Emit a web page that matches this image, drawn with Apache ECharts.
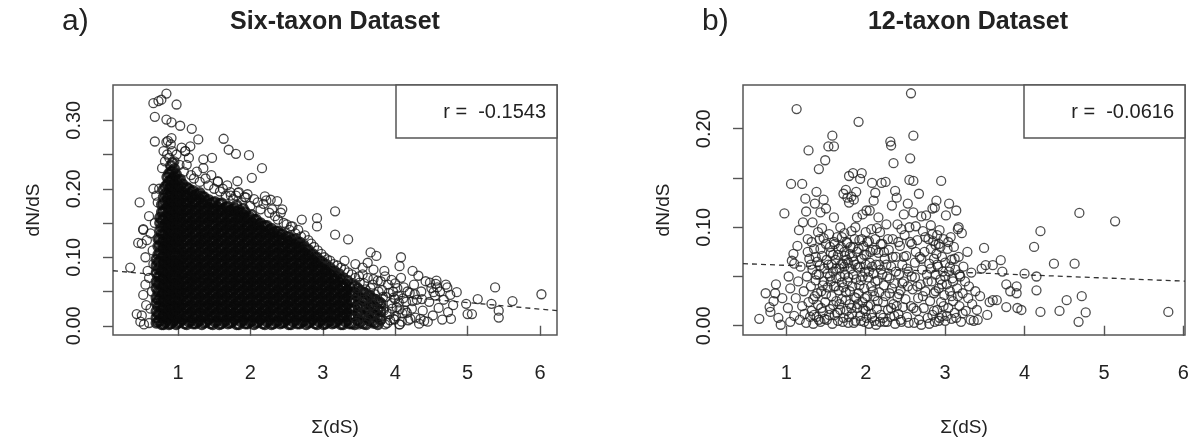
<!DOCTYPE html>
<html><head><meta charset="utf-8">
<script src="https://cdn.jsdelivr.net/npm/echarts@6/dist/echarts.min.js"></script>
<style>html,body{margin:0;padding:0;background:#fff}#c{width:1196px;height:442px}</style>
</head><body><div id="c"></div>
<script>
// ---------- axes / labels ----------
const xTicks = [1, 2, 3, 4, 5, 6];
const sixYTicks = [0, 0.05, 0.10, 0.15, 0.20, 0.25, 0.30];
const sixYLabels = [0, 0.10, 0.20, 0.30];
const twelveYTicks = [0, 0.05, 0.10, 0.15, 0.20];
const twelveYLabels = [0, 0.10, 0.20];
const sixRange = {xmin: 0.102, xmax: 6.235, ymin: -0.0135, ymax: 0.3515};
const twelveRange = {xmin: 0.455, xmax: 6.02, ymin: -0.0094, ymax: 0.2444};
const sixFit = {intercept: 0.0813, slope: -0.0095};
const twelveFit = {intercept: 0.0645, slope: -0.0032};
const sixR = -0.1543;
const twelveR = -0.0616;

// ---------- six-taxon data ----------
// dense (solid black) core, listed column by column: [x, [y values]]
const sixCoreCols = [
[0.70,[.004,.012,.021,.033,.041,.055,.064,.077,.088,.097]],
[0.75,[.007,.018,.028,.040,.049,.062,.072,.084,.094,.106,.117,.126,.139,.150,.158]],
[0.80,[.002,.013,.025,.035,.047,.056,.068,.078,.091,.101,.112,.124,.133,.146,.155,.167,.178,.188,.199]],
[0.85,[.009,.019,.031,.042,.051,.063,.075,.085,.096,.108,.118,.129,.141,.151,.162,.173,.184,.194,.206,.217]],
[0.90,[.003,.015,.024,.037,.046,.058,.069,.080,.091,.102,.114,.123,.135,.146,.157,.168,.179,.190,.201,.212,.224,.234]],
[0.95,[.008,.020,.029,.041,.053,.062,.074,.086,.095,.107,.119,.129,.140,.152,.162,.174,.185,.196,.207,.218,.229]],
[1.00,[.004,.013,.026,.035,.047,.058,.068,.081,.090,.102,.113,.124,.135,.147,.157,.168,.180,.190,.201,.213]],
[1.06,[.009,.019,.031,.042,.052,.064,.075,.086,.097,.108,.119,.130,.141,.151,.163,.174,.185,.196,.207]],
[1.12,[.002,.014,.025,.036,.048,.057,.069,.080,.092,.103,.113,.125,.136,.146,.158,.169,.180,.190,.202]],
[1.18,[.007,.020,.030,.041,.053,.063,.074,.086,.097,.107,.119,.130,.141,.152,.163,.174,.186,.196]],
[1.24,[.003,.015,.024,.036,.047,.059,.070,.081,.091,.102,.114,.124,.136,.147,.157,.169,.180,.191]],
[1.30,[.008,.019,.030,.042,.052,.064,.075,.085,.097,.108,.119,.129,.141,.152,.163,.174,.185,.194]],
[1.36,[.004,.014,.025,.037,.047,.058,.069,.080,.092,.102,.113,.125,.135,.146,.158,.168,.179,.188]],
[1.42,[.009,.020,.031,.041,.053,.063,.074,.086,.096,.108,.118,.130,.140,.152,.162,.173,.184]],
[1.48,[.002,.013,.026,.036,.047,.058,.070,.080,.091,.103,.114,.124,.135,.147,.158,.168,.180]],
[1.54,[.007,.019,.030,.041,.052,.064,.075,.086,.097,.108,.119,.130,.141,.152,.163,.174]],
[1.60,[.003,.014,.025,.037,.047,.058,.069,.081,.091,.102,.113,.125,.136,.146,.157,.169,.179]],
[1.66,[.008,.020,.030,.042,.052,.063,.075,.085,.097,.107,.119,.129,.141,.151,.163,.173]],
[1.72,[.004,.015,.024,.036,.048,.058,.069,.080,.092,.102,.114,.124,.135,.147,.157,.168]],
[1.78,[.009,.019,.031,.041,.053,.064,.074,.086,.096,.108,.118,.130,.141,.151,.162,.172]],
[1.84,[.002,.014,.025,.036,.047,.059,.070,.080,.091,.103,.113,.124,.136,.146,.158,.168]],
[1.90,[.008,.019,.030,.042,.052,.063,.075,.086,.096,.108,.119,.130,.140,.152,.162,.171]],
[1.96,[.003,.015,.026,.036,.047,.058,.069,.081,.092,.102,.113,.125,.135,.146,.157]],
[2.02,[.007,.020,.030,.041,.053,.064,.074,.085,.097,.107,.119,.129,.141,.151,.162]],
[2.08,[.004,.013,.025,.037,.048,.058,.070,.080,.091,.103,.114,.124,.136,.147,.155]],
[2.14,[.009,.019,.031,.042,.052,.063,.075,.086,.096,.108,.118,.130,.140,.150]],
[2.20,[.002,.014,.024,.036,.047,.059,.069,.080,.092,.102,.113,.125,.135,.146]],
[2.26,[.008,.020,.030,.041,.053,.064,.074,.085,.097,.108,.119,.129,.140]],
[2.32,[.003,.015,.026,.037,.047,.058,.070,.081,.091,.103,.113,.124,.136]],
[2.38,[.007,.019,.031,.042,.052,.063,.075,.086,.096,.107,.118,.130,.138]],
[2.44,[.004,.014,.025,.036,.048,.059,.069,.080,.092,.102,.114,.125,.134]],
[2.50,[.009,.020,.030,.041,.053,.064,.074,.086,.097,.108,.119,.130]],
[2.56,[.002,.013,.024,.037,.047,.058,.070,.081,.091,.103,.113,.125]],
[2.62,[.008,.019,.031,.042,.052,.063,.075,.085,.096,.108,.119,.127]],
[2.68,[.003,.015,.025,.036,.047,.059,.069,.080,.092,.102,.114,.122]],
[2.74,[.007,.020,.030,.041,.053,.064,.074,.086,.097,.107,.117]],
[2.80,[.004,.014,.026,.037,.048,.058,.070,.080,.091,.103,.111]],
[2.86,[.009,.019,.031,.042,.052,.063,.075,.086,.096,.105]],
[2.92,[.002,.015,.024,.036,.047,.059,.069,.081,.092,.100]],
[2.98,[.008,.020,.030,.041,.053,.064,.074,.085,.094]],
[3.04,[.003,.013,.025,.037,.047,.058,.070,.080,.090]],
[3.10,[.007,.019,.031,.042,.052,.063,.075,.085]],
[3.16,[.004,.015,.026,.036,.048,.059,.069,.080]],
[3.22,[.009,.020,.030,.041,.053,.064,.076]],
[3.28,[.002,.014,.024,.037,.047,.058,.070]],
[3.34,[.008,.019,.031,.042,.052,.066]],
[3.40,[.003,.015,.025,.036,.048,.061]],
[3.48,[.008,.019,.030,.043,.055]],
[3.56,[.003,.014,.026,.037,.049]],
[3.64,[.008,.020,.031,.044]],
[3.72,[.004,.015,.027,.038]],
[3.80,[.009,.021,.033]]
];
// second, interleaved set of core columns
const sixCoreCols2 = [
[0.725,[.006,.017,.028,.038,.050,.061,.071,.083,.093,.104,.116,.127]],
[0.775,[.002,.012,.024,.035,.045,.056,.067,.079,.089,.100,.111,.122,.134,.144,.155,.166,.177]],
[0.825,[.005,.016,.027,.037,.049,.060,.070,.082,.093,.104,.115,.126,.137,.148,.158,.170,.181,.192,.203]],
[0.875,[.002,.013,.025,.036,.046,.057,.068,.079,.091,.101,.112,.123,.134,.145,.156,.167,.178,.189,.200,.211,.222]],
[0.925,[.006,.017,.028,.039,.050,.061,.072,.084,.094,.105,.116,.127,.138,.149,.160,.171,.183,.193,.204,.215,.226,.238]],
[0.975,[.002,.012,.024,.035,.046,.057,.068,.079,.090,.101,.113,.123,.134,.145,.156,.167,.178,.190,.200,.211,.221]],
[1.03,[.006,.017,.028,.039,.050,.061,.073,.083,.094,.105,.116,.127,.138,.150,.160,.171,.182,.193,.204,.214]],
[1.09,[.003,.013,.025,.035,.047,.057,.068,.079,.090,.101,.112,.124,.134,.145,.156,.167,.178,.189,.200]],
[1.15,[.006,.017,.028,.039,.050,.061,.072,.083,.095,.105,.116,.127,.138,.149,.160,.171,.182,.193,.200]],
[1.21,[.003,.012,.024,.035,.046,.057,.068,.079,.090,.101,.112,.123,.135,.145,.156,.167,.178,.189,.197]],
[1.27,[.006,.017,.028,.039,.050,.061,.072,.084,.094,.105,.116,.127,.138,.149,.160,.171,.182,.192]],
[1.33,[.002,.013,.024,.035,.046,.057,.068,.079,.090,.101,.113,.123,.134,.145,.156,.167,.178,.189]],
[1.39,[.006,.017,.028,.039,.050,.061,.072,.083,.094,.105,.116,.128,.138,.149,.160,.171,.182]],
[1.45,[.003,.013,.024,.035,.046,.057,.068,.079,.090,.101,.112,.123,.134,.146,.156,.167,.178]],
[1.51,[.006,.017,.028,.039,.050,.061,.072,.083,.094,.105,.116,.127,.138,.149,.160,.171,.181]],
[1.57,[.002,.013,.024,.035,.046,.057,.068,.079,.090,.101,.112,.123,.134,.145,.156,.167,.178]],
[1.63,[.006,.017,.028,.039,.050,.061,.072,.083,.094,.105,.116,.127,.138,.149,.160,.171]],
[1.69,[.003,.013,.024,.035,.046,.057,.068,.079,.090,.101,.112,.123,.134,.145,.156,.167,.174]],
[1.75,[.006,.017,.028,.039,.050,.061,.072,.083,.094,.105,.116,.127,.138,.149,.160,.170]],
[1.81,[.002,.013,.024,.035,.046,.057,.068,.079,.090,.101,.112,.123,.134,.145,.156,.167,.176]],
[1.87,[.006,.017,.028,.039,.050,.061,.072,.083,.094,.105,.116,.127,.138,.149,.160,.166]],
[1.93,[.003,.013,.024,.035,.046,.057,.068,.079,.090,.101,.112,.123,.134,.145,.156,.166]],
[1.99,[.006,.017,.028,.039,.050,.061,.072,.083,.094,.105,.116,.127,.138,.149,.159]],
[2.05,[.002,.013,.024,.035,.046,.057,.068,.079,.090,.101,.112,.123,.134,.145,.155]],
[2.11,[.006,.017,.028,.039,.050,.061,.072,.083,.094,.105,.116,.127,.138,.149]],
[2.17,[.003,.013,.024,.035,.046,.057,.068,.079,.090,.101,.112,.123,.134,.145]],
[2.23,[.006,.017,.028,.039,.050,.061,.072,.083,.094,.105,.116,.127,.138,.146]],
[2.29,[.002,.013,.024,.035,.046,.057,.068,.079,.090,.101,.112,.123,.134,.142]],
[2.35,[.006,.017,.028,.039,.050,.061,.072,.083,.094,.105,.116,.127,.138]],
[2.41,[.003,.013,.024,.035,.046,.057,.068,.079,.090,.101,.112,.123,.134]],
[2.47,[.006,.017,.028,.039,.050,.061,.072,.083,.094,.105,.116,.127]],
[2.53,[.002,.013,.024,.035,.046,.057,.068,.079,.090,.101,.112,.123,.130]],
[2.59,[.006,.017,.028,.039,.050,.061,.072,.083,.094,.105,.116,.126]],
[2.65,[.003,.013,.024,.035,.046,.057,.068,.079,.090,.101,.112,.122]],
[2.71,[.006,.017,.028,.039,.050,.061,.072,.083,.094,.105,.116]],
[2.77,[.002,.013,.024,.035,.046,.057,.068,.079,.090,.101,.112]],
[2.83,[.006,.017,.028,.039,.050,.061,.072,.083,.094,.105]],
[2.89,[.003,.013,.024,.035,.046,.057,.068,.079,.090,.100]],
[2.95,[.006,.017,.028,.039,.050,.061,.072,.083,.094]],
[3.01,[.002,.013,.024,.035,.046,.057,.068,.079,.090]],
[3.07,[.006,.017,.028,.039,.050,.061,.072,.083]],
[3.13,[.003,.013,.024,.035,.046,.057,.068,.079]],
[3.19,[.006,.017,.028,.039,.050,.061,.072]],
[3.25,[.002,.013,.024,.035,.046,.057,.068]],
[3.31,[.006,.017,.028,.039,.050,.061]],
[3.37,[.003,.013,.024,.035,.046,.057]],
[3.44,[.002,.013,.025,.036,.048,.058]],
[3.52,[.005,.017,.028,.040,.051]],
[3.60,[.002,.013,.025,.036,.047]],
[3.68,[.006,.017,.029,.040]],
[3.76,[.002,.013,.024,.035]]
];
// individually visible circles around the edge of the dense mass
const sixHalo = [
[0.50,.120],[0.52,.140],[0.55,.100],[0.57,.125],[0.60,.160],[0.62,.135],[0.58,.080],[0.55,.060],
[0.52,.045],[0.56,.030],[0.50,.015],[0.48,.006],[0.53,.002],[0.60,.004],[0.62,.025],[0.64,.050],
[0.60,.070],[0.66,.090],[0.65,.110],[0.68,.150],[0.70,.190],[0.66,.200],[0.72,.180],[0.74,.200],
[0.78,.230],[0.82,.240],[0.85,.250],[0.88,.245],[0.92,.255],[0.95,.240],[0.98,.250],[1.02,.235],
[1.05,.260],[1.08,.225],[1.12,.235],[1.15,.245],[1.10,.255],[0.90,.265],[0.86,.270],[0.80,.255],
[1.18,.220],[1.22,.215],[1.26,.225],[1.30,.210],[1.35,.230],[1.38,.215],[1.42,.205],[1.46,.220],
[1.50,.200],[1.55,.210],[1.58,.196],[1.62,.200],[1.66,.190],[1.72,.195],[1.76,.185],[1.80,.190],
[1.84,.195],[1.88,.180],[1.92,.188],[1.96,.192],[2.00,.175],[2.05,.185],[2.10,.180],[2.14,.170],
[2.18,.178],[2.22,.183],[2.26,.165],[2.30,.170],[2.34,.160],[2.38,.155],[2.42,.165],[2.46,.150],
[2.50,.148],[2.54,.140],[2.58,.145],[2.62,.135],[2.66,.140],[2.70,.130],[2.75,.132],[2.80,.125],
[2.84,.120],[2.88,.115],[2.93,.110],[2.98,.105],[3.02,.100],[3.06,.097],[3.10,.095],[3.15,.090],
[3.20,.088],[3.25,.085],[3.30,.082],[3.35,.078],[3.40,.075],[3.45,.070],[3.50,.072],[3.55,.075],
[3.62,.070],[3.70,.068],[3.80,.065],[3.86,.072],[3.95,.067],[4.00,.062],[3.30,.095],[3.45,.090],
[3.55,.085],[3.62,.092],[3.70,.082],[3.85,.080],
[1.73,.190],[1.83,.194],[1.94,.187],[2.20,.189],[2.28,.184],[2.37,.182],[2.44,.170]
];
// tail of the cloud beyond x = 3.4
const sixTail = [
[3.46,.004],[3.47,.020],[3.45,.038],[3.48,.055],[3.52,.011],[3.53,.030],[3.55,.047],[3.57,.062],
[3.58,.002],[3.60,.022],[3.62,.040],[3.64,.013],[3.66,.055],[3.68,.030],[3.70,.003],[3.72,.046],
[3.74,.019],[3.76,.066],[3.78,.036],[3.80,.008],[3.82,.052],[3.84,.025],[3.87,.042],[3.89,.004],
[3.90,.060],[3.92,.017],[3.95,.033],[3.97,.050],[3.99,.009],[4.02,.027],[4.04,.044],[4.06,.002],
[4.08,.070],[4.10,.018],[4.12,.056],[4.15,.035],[4.18,.008],[4.20,.048],[4.23,.025],[4.26,.060],
[4.28,.012],[4.30,.038],[4.33,.003],[4.36,.050],[4.38,.022],[4.42,.065],[4.45,.006],[4.47,.035],
[4.50,.055],[4.52,.015],[4.55,.044],[4.57,.066],[4.60,.026],[4.62,.050],[4.65,.009],[4.67,.038],
[4.70,.060],[4.73,.020],[4.76,.045],[4.80,.030],
[3.44,.012],[3.46,.046],[3.49,.028],[3.51,.063],[3.50,.002],[3.54,.019],[3.56,.038],[3.59,.053],
[3.61,.008],[3.63,.030],[3.65,.045],[3.67,.016],[3.69,.060],[3.71,.024],[3.73,.036],[3.75,.005],
[3.77,.050],[3.79,.014],[3.81,.028],[3.83,.042],[3.86,.002],[3.88,.020],[3.91,.048],[3.93,.008],
[3.96,.025],[3.98,.041],[4.01,.014],[4.03,.055],[4.05,.034],[4.09,.006],[4.11,.040],[4.14,.022],
[4.17,.050],[4.21,.010],[4.24,.036],[4.27,.046]
];
// isolated points
const sixOutliers = [
[0.34,.085],[0.47,.180],[0.43,.017],[0.45,.121],[0.52,.141],
[0.66,.325],[0.73,.328],[0.77,.330],[0.84,.339],[0.98,.323],[0.68,.305],[0.84,.301],[0.91,.297],
[1.03,.292],[1.19,.2875],[0.68,.269],[0.84,.268],[0.91,.274],[1.28,.272],[1.10,.255],[1.17,.262],
[1.35,.243],[1.47,.245],[1.63,.273],[1.70,.257],[1.80,.251],[1.98,.249],[2.16,.230],[2.02,.216],
[1.82,.211],[1.68,.205],[1.55,.211],
[2.71,.155],[2.92,.157],[2.92,.145],[3.17,.167],[3.17,.133],[3.35,.126],[2.56,.145],
[3.66,.107],[3.74,.102],[4.08,.100],[4.06,.087],[4.24,.080],[4.32,.073],[4.53,.049],[4.72,.056],
[4.85,.049],[5.14,.039],[5.38,.056],[5.62,.036],[6.02,.046],[5.00,.017],[5.06,.017],[5.33,.032],
[5.43,.022],[5.43,.012],[4.77,.010],[4.98,.032],[4.56,.061],[4.58,.056],[4.48,.063],[4.37,.039],
[4.40,.007],[4.35,.010],[4.16,.019],[4.06,.002],[3.98,.010],[3.84,.022],[4.06,.024],[4.00,.039]
];

// ---------- 12-taxon data ----------
const twelveLow = [
[0.66,.007],[0.74,.033],[0.79,.019],[0.80,.014],[0.86,.033],[0.87,.042],[0.93,.001],[0.84,.025],[0.90,.008],[0.95,.028],[0.976,.114],
[1.02,.018],[1.03,.050],[1.05,.038],[1.05,.004],[1.07,.066],[1.09,.073],[1.14,.081],[1.06,.144],[1.13,.220],[1.20,.144],[1.10,.010],
[1.12,.028],[1.15,.045],[1.17,.006],[1.18,.060],[1.20,.020],[1.22,.035],[1.23,.012],[1.24,.129],[1.25,.003],[1.26,.050],[1.27,.088],
[1.28,.024],[1.29,.068],[1.28,.178],[1.30,.009],[1.10,.063],[1.16,.097],[1.21,.105],[1.25,.116],[1.27,.075],
[1.31,.040],[1.32,.015],[1.33,.057],[1.34,.002],[1.35,.078],[1.36,.124],[1.36,.030],[1.37,.046],[1.38,.136],[1.38,.009],[1.39,.065],
[1.40,.021],[1.41,.159],[1.41,.052],[1.42,.088],[1.43,.004],[1.44,.035],[1.45,.071],[1.45,.099],[1.46,.014],[1.47,.045],[1.48,.058],
[1.49,.168],[1.49,.024],[1.50,.119],[1.50,.083],[1.51,.006],[1.52,.039],[1.53,.182],[1.53,.062],[1.54,.093],[1.55,.017],[1.55,.050],
[1.56,.074],[1.57,.030],[1.58,.002],[1.58,.193],[1.60,.182],[1.59,.055],[1.60,.110],[1.60,.085],[1.60,.040],[1.33,.105],[1.43,.115],
[1.47,.128],[1.40,.095]
];
const twelveMid = [
[1.61,.011],[1.62,.067],[1.63,.025],[1.63,.048],[1.64,.090],[1.65,.005],[1.65,.072],[1.66,.036],[1.67,.058],[1.68,.100],[1.68,.016],
[1.69,.080],[1.70,.044],[1.70,.027],[1.71,.063],[1.72,.134],[1.72,.008],[1.73,.075],[1.73,.094],[1.74,.052],[1.75,.138],[1.75,.034],
[1.76,.015],[1.76,.067],[1.77,.130],[1.77,.084],[1.78,.003],[1.78,.049],[1.79,.152],[1.79,.125],[1.80,.073],[1.80,.022],[1.81,.058],
[1.82,.096],[1.82,.131],[1.83,.040],[1.83,.012],[1.84,.155],[1.84,.080],[1.85,.065],[1.85,.128],[1.86,.029],[1.87,.005],[1.87,.100],
[1.88,.047],[1.88,.136],[1.89,.018],[1.89,.075],
[1.90,.059],[1.91,.033],[1.91,.207],[1.92,.087],[1.93,.010],[1.93,.149],[1.94,.046],[1.95,.155],[1.95,.068],[1.96,.024],[1.96,.113],
[1.97,.081],[1.98,.004],[1.98,.038],[1.99,.055],[2.00,.095],[2.00,.015],[2.01,.117],[2.01,.072],[2.02,.030],[2.03,.049],[2.04,.086],
[2.04,.002],[2.05,.117],[2.05,.064],[2.06,.021],[2.07,.040],[2.07,.098],[2.08,.008],[2.08,.145],[2.09,.077],[2.10,.127],[2.10,.053],
[2.11,.030],[2.12,.135],[2.12,.088],[2.13,.001],[2.13,.062],[2.14,.017],[2.15,.046],[2.16,.110],[2.16,.074],[2.17,.034],[2.18,.095],
[2.19,.011],[2.19,.057],[2.20,.145],
[2.21,.083],[2.22,.024],[2.23,.041],[2.24,.068],[2.24,.004],[2.25,.146],[2.26,.103],[2.27,.050],[2.28,.016],[2.29,.077],[2.30,.033],
[2.31,.009],[2.31,.187],[2.32,.183],[2.32,.060],[2.33,.122],[2.34,.088],[2.35,.165],[2.35,.022],[2.36,.043],[2.37,.002],[2.37,.137],
[2.38,.070],[2.39,.130],[2.40,.029],[2.40,.103],[2.41,.012],[2.42,.052],[2.43,.081],[2.44,.036],[2.45,.098],[2.45,.004],[2.46,.062],
[2.47,.019],[2.48,.113],[2.48,.045],[2.49,.092],[2.50,.027]
];
const twelveHigh = [
[2.51,.071],[2.52,.009],[2.53,.124],[2.53,.040],[2.54,.055],[2.55,.148],[2.55,.100],[2.57,.236],[2.56,.170],[2.57,.020],[2.58,.083],
[2.59,.037],[2.60,.193],[2.60,.147],[2.60,.115],[2.61,.003],[2.62,.064],[2.62,.049],[2.63,.101],[2.64,.015],[2.65,.087],[2.66,.028],
[2.67,.134],[2.68,.070],[2.69,.042],[2.70,.111],[2.70,.001],[2.71,.057],[2.72,.096],[2.73,.018],[2.74,.075],[2.75,.035],[2.76,.112],
[2.77,.052],[2.78,.008],[2.79,.088],
[2.80,.063],[2.81,.025],[2.82,.102],[2.82,.078],[2.83,.045],[2.84,.119],[2.84,.011],[2.85,.086],[2.86,.068],[2.86,.033],[2.87,.120],
[2.87,.004],[2.88,.082],[2.88,.052],[2.89,.127],[2.89,.073],[2.90,.016],[2.90,.092],[2.91,.060],[2.92,.038],[2.92,.083],[2.93,.008],
[2.93,.097],[2.94,.047],[2.95,.024],[2.95,.147],[2.96,.070],[2.96,.010],[2.97,.055],[2.98,.088],[2.99,.031],[3.00,.064],[3.00,.005],
[3.01,.112],[3.02,.042],[3.03,.078],[3.04,.018],[3.05,.124],[3.05,.055],[3.06,.035],[3.07,.090],[3.08,.007],[3.08,.067],[3.09,.048],
[3.10,.025],
[3.11,.080],[3.12,.013],[3.13,.057],[3.14,.117],[3.15,.038],[3.16,.098],[3.17,.100],[3.17,.070],[3.18,.020],[3.19,.050],[3.20,.004],
[3.21,.094],[3.22,.0125],[3.22,.033],[3.23,.060],[3.25,.045],[3.26,.015],[3.28,.075],[3.29,.028],[3.30,.040],[3.32,.006],[3.33,.054],
[3.34,.022],[3.36,.005],[3.38,.035],[3.40,.016],[3.41,.006],
[3.44,.030],[3.46,.058],[3.49,.079],[3.51,.0615],[3.53,.011],[3.56,.024],[3.60,.0615],[3.60,.026],[3.65,.026],[3.70,.0666],[3.72,.055],
[3.77,.042],[3.77,.019],[3.82,.035],[3.90,.040],[3.90,.033],[3.91,.018],[3.96,.016],[4.00,.053],
[4.12,.080],[4.15,.050],[4.15,.036],[4.20,.096],[4.20,.014],[4.37,.063],[4.44,.015],[4.53,.026],[4.63,.063],[4.68,.004],[4.69,.1145],
[4.72,.030],[4.77,.0135],[5.14,.106],[5.81,.014]
];
const twelveExtra = [
[1.31,.062],[1.32,.085],[1.34,.027],[1.35,.011],[1.37,.070],[1.38,.052],[1.39,.033],[1.41,.006],[1.42,.061],[1.43,.078],[1.44,.018],
[1.46,.041],[1.47,.089],[1.48,.007],[1.50,.032],[1.51,.067],[1.52,.053],[1.54,.011],[1.55,.080],[1.56,.045],[1.57,.062],[1.59,.021],
[1.59,.072],
[1.61,.083],[1.62,.040],[1.63,.058],[1.64,.013],[1.66,.078],[1.67,.022],[1.68,.050],[1.69,.062],[1.70,.090],[1.71,.004],[1.72,.039],
[1.73,.060],[1.74,.071],[1.75,.026],[1.76,.085],[1.77,.045],[1.78,.064],[1.79,.009],[1.80,.035],[1.81,.080],[1.82,.018],[1.83,.070],
[1.84,.052],[1.85,.003],[1.86,.088],[1.87,.062],[1.88,.028],[1.89,.110],
[1.90,.022],[1.91,.078],[1.92,.041],[1.93,.060],[1.94,.005],[1.95,.088],[1.96,.050],[1.97,.017],[1.98,.072],[1.99,.028],[2.00,.062],
[2.01,.008],[2.02,.085],[2.03,.020],[2.04,.055],[2.06,.075],[2.07,.012],[2.08,.060],[2.09,.035],[2.11,.005],[2.12,.045],[2.13,.077],
[2.14,.099],[2.15,.025],[2.17,.062],[2.18,.004],[2.19,.083],
[2.21,.052],[2.22,.008],[2.23,.075],[2.25,.030],[2.26,.062],[2.27,.004],[2.28,.088],[2.30,.048],[2.32,.018],[2.33,.038],[2.34,.070],
[2.36,.010],[2.38,.055],[2.39,.020],[2.41,.085],[2.42,.032],[2.44,.006],[2.46,.043],[2.48,.070],
[2.52,.058],[2.54,.003],[2.56,.085],[2.58,.050],[2.60,.018],[2.63,.075],[2.65,.040],[2.67,.006],[2.70,.068],[2.72,.030],[2.75,.090],
[2.78,.045],[2.80,.002],[2.82,.058],[2.84,.093],[2.86,.015],[2.88,.035],[2.90,.062],[2.92,.005],[2.94,.080],[2.96,.042],[2.98,.020],
[3.00,.050],[3.02,.010],[3.04,.085],[3.06,.060],[3.08,.030],[3.10,.045],[3.12,.068],[3.14,.008],[3.16,.030],[3.18,.052]
];

// ---------- build ----------
const sixCore = [];
sixCoreCols.concat(sixCoreCols2).forEach(([x, ys]) => ys.forEach(y => sixCore.push([x, y])));
const sixLoose = sixHalo.concat(sixTail, sixOutliers);
const twelveAll = twelveLow.concat(twelveMid, twelveHigh, twelveExtra);

const FONT = "'Liberation Sans', Arial, Helvetica, sans-serif";
const INK = '#222';
const BOX = '#555';
const fmt2 = v => Number(v).toFixed(2);

function xAxisFor(idx, range) {
  return {
    type: 'value', gridIndex: idx, min: range.xmin, max: range.xmax,
    axisLine: {show: false}, splitLine: {show: false},
    axisTick: {show: true, length: 10, customValues: xTicks, lineStyle: {color: BOX, width: 1.4}},
    axisLabel: {customValues: xTicks, color: INK, fontSize: 20, fontFamily: FONT, margin: 28, formatter: v => String(Math.round(v))},
    name: 'Σ(dS)', nameLocation: 'middle', nameGap: 83,
    nameTextStyle: {color: INK, fontSize: 19, fontFamily: FONT}
  };
}
function yAxisFor(idx, range, ticks, labels) {
  return {
    type: 'value', gridIndex: idx, min: range.ymin, max: range.ymax,
    axisLine: {show: false}, splitLine: {show: false},
    axisTick: {show: true, length: 10, customValues: ticks, lineStyle: {color: BOX, width: 1.4}},
    axisLabel: {customValues: labels, rotate: 90, color: INK, fontSize: 20, fontFamily: FONT, margin: 29, formatter: fmt2},
    name: 'dN/dS', nameLocation: 'middle', nameGap: 70, nameRotate: 90,
    nameTextStyle: {color: INK, fontSize: 19, fontFamily: FONT}
  };
}
function scatter(idx, data, lw, color) {
  return {
    type: 'scatter', xAxisIndex: idx, yAxisIndex: idx, data: data, z: 3,
    symbol: 'circle', symbolSize: 9, large: false, largeThreshold: 100000, progressive: 0, silent: true,
    itemStyle: {color: 'rgba(0,0,0,0)', borderColor: color, borderWidth: lw}
  };
}
function fitLine(idx, range, fit) {
  return {
    type: 'line', xAxisIndex: idx, yAxisIndex: idx, symbol: 'none', silent: true, z: 2,
    data: [[range.xmin, fit.intercept + fit.slope * range.xmin], [range.xmax, fit.intercept + fit.slope * range.xmax]],
    lineStyle: {color: '#333', width: 1.3, type: [5, 4]}
  };
}

const chart = echarts.init(document.getElementById('c'), null, {renderer: 'canvas'});
chart.setOption({
  animation: false,
  backgroundColor: '#fff',
  textStyle: {fontFamily: FONT},
  title: [
    {text: 'a)', left: 62, top: 7, padding: 0, textStyle: {fontSize: 30, fontWeight: 'normal', color: INK, fontFamily: FONT}},
    {text: 'Six-taxon Dataset', left: 335, top: 10, padding: 0, textAlign: 'center', textStyle: {fontSize: 25, fontWeight: 'bold', color: INK, fontFamily: FONT}},
    {text: 'b)', left: 702, top: 7, padding: 0, textStyle: {fontSize: 30, fontWeight: 'normal', color: INK, fontFamily: FONT}},
    {text: '12-taxon Dataset', left: 968, top: 10, padding: 0, textAlign: 'center', textStyle: {fontSize: 25, fontWeight: 'bold', color: INK, fontFamily: FONT}}
  ],
  grid: [
    {left: 113, top: 85, width: 444, height: 250, show: true, borderColor: BOX, borderWidth: 1.5, backgroundColor: 'transparent'},
    {left: 743, top: 85, width: 442, height: 250, show: true, borderColor: BOX, borderWidth: 1.5, backgroundColor: 'transparent'}
  ],
  xAxis: [xAxisFor(0, sixRange), xAxisFor(1, twelveRange)],
  yAxis: [yAxisFor(0, sixRange, sixYTicks, sixYLabels), yAxisFor(1, twelveRange, twelveYTicks, twelveYLabels)],
  series: [
    fitLine(0, sixRange, sixFit), scatter(0, sixCore, 2.6, '#0a0a0a'), scatter(0, sixLoose, 1.3, '#1a1a1a'),
    scatter(1, twelveAll, 1.3, '#222'), fitLine(1, twelveRange, twelveFit)
  ],
  graphic: [
    {type: 'rect', shape: {x: 396, y: 85, width: 161, height: 53}, style: {fill: '#fff', stroke: BOX, lineWidth: 1.5}, z: 100},
    {type: 'text', x: 546, y: 112, style: {text: 'r =  ' + sixR.toFixed(4), fill: INK, font: '20px ' + FONT, textAlign: 'right', textVerticalAlign: 'middle'}, z: 101},
    {type: 'rect', shape: {x: 1024, y: 85, width: 161, height: 53}, style: {fill: '#fff', stroke: BOX, lineWidth: 1.5}, z: 100},
    {type: 'text', x: 1174, y: 112, style: {text: 'r =  ' + twelveR.toFixed(4), fill: INK, font: '20px ' + FONT, textAlign: 'right', textVerticalAlign: 'middle'}, z: 101}
  ]
});
</script>
</body></html>
